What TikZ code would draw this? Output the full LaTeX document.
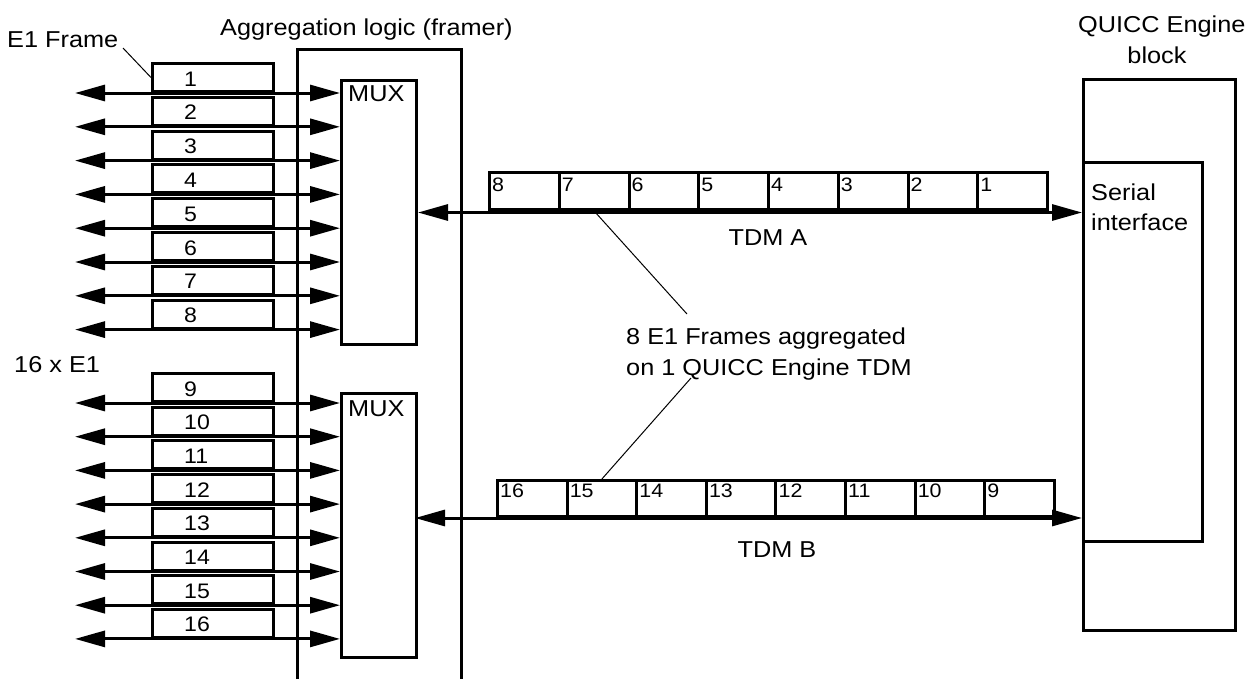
\documentclass[tikz,border=0pt]{standalone}
\usepackage{fontspec}
\setmainfont{Liberation Sans}
\newfontfamily\widefont[FakeStretch=1.1]{Liberation Sans}
\usetikzlibrary{arrows.meta}
\begin{document}
\begin{tikzpicture}[x=1pt,y=-1pt,
  box/.style={draw, line width=3pt, inner sep=0pt},
  e1box/.style={box, minimum width=121pt, minimum height=28pt, anchor=south west},
  slotA/.style={box, minimum width=69.75pt, minimum height=37pt, anchor=south west},
  slotB/.style={box, minimum width=69.6pt, minimum height=36pt, anchor=south west},
  txt/.style={inner sep=0pt, font=\widefont\fontsize{23}{30}\selectfont},
  numtxt/.style={inner sep=0pt, anchor=base west, font=\widefont\fontsize{21}{25}\selectfont},
  slottxt/.style={inner sep=0pt, anchor=base west, font=\widefont\fontsize{19.5}{24}\selectfont},
  tip/.tip={Triangle[length=30pt, width=16pt]},
  dbl/.style={line width=3pt, {tip}-{tip}},
  leader/.style={line width=1pt}
]
\useasboundingbox (0,0) rectangle (1256,681);

% aggregation block (open at the bottom)
\draw[line width=3pt] (297,679) -- (297,49) -- (461,49) -- (461,679);
\node[txt, anchor=base west] (aggtxt) at (220,35) {Aggregation logic (framer)};

% MUX boxes
\node[box, minimum width=75pt, minimum height=264pt, anchor=north west] (mux1) at (340,79) {};
\node[txt, anchor=base west] (muxt1) at (348,101) {MUX};
\node[box, minimum width=75pt, minimum height=264pt, anchor=north west] (mux2) at (340,392) {};
\node[txt, anchor=base west] (muxt2) at (348,416) {MUX};

% QUICC Engine block
\node[box, minimum width=152pt, minimum height=551pt, anchor=north west] (qe) at (1082,78) {};
\node[box, minimum width=119pt, minimum height=379pt, anchor=north west] (si) at (1082,161) {};
\node[txt, anchor=base west] (sit1) at (1091,200) {Serial};
\node[txt, anchor=base west] (sit2) at (1091,230) {interface};
\node[txt, anchor=base west] (qet1) at (1078,32) {QUICC Engine};
\node[txt, anchor=base] (qet2) at (1157,63) {block};

% E1 frames 1..8
\foreach \i in {1,...,8} {
  \pgfmathsetmacro\yy{93+(\i-1)*33.8}
  \coordinate (a\i) at (75,\yy);
  \node[e1box] (f\i) at (151,\yy) {};
  \node[numtxt] (n\i) at (184,\yy-7) {\i};
  \draw[dbl] (a\i) -- (a\i -| mux1.west);
}
% E1 frames 9..16
\foreach \i in {9,...,16} {
  \pgfmathsetmacro\yy{403+(\i-9)*33.7}
  \coordinate (a\i) at (75,\yy);
  \node[e1box] (f\i) at (151,\yy) {};
  \node[numtxt] (n\i) at (184,\yy-7) {\i};
  \draw[dbl] (a\i) -- (a\i -| mux2.west);
}
\node[txt, anchor=base west] (e1t) at (7,47) {E1 Frame};
\coordinate (e1c) at (123,48);
\draw[leader] (e1c) -- (f1.west);
\node[txt, anchor=base west] (x16) at (14,372) {16 x E1};

% TDM A
\foreach \i in {1,...,8} {
  \pgfmathtruncatemacro\lab{9-\i}
  \node[slotA] (sa\i) at ({488+(\i-1)*69.75},211) {};
  \node[slottxt] (sat\i) at ({492+(\i-1)*69.75},191) {\lab};
}
\draw[dbl] (mux1.east) -- (mux1.east -| si.west);
\node[txt, anchor=base] (tdma) at (768,245) {TDM A};

% TDM B
\foreach \i in {1,...,8} {
  \pgfmathtruncatemacro\lab{17-\i}
  \node[slotB] (sb\i) at ({496+(\i-1)*69.6},518) {};
  \node[slottxt] (sbt\i) at ({500+(\i-1)*69.6},497) {\lab};
}
\coordinate (tbl) at (415,518);
\draw[dbl] (tbl) -- (tbl -| si.west);
\node[txt, anchor=base] (tdmb) at (777,557) {TDM B};

% aggregation note
\node[txt, anchor=base west] (agg1) at (626,344) {8 E1 Frames aggregated};
\node[txt, anchor=base west] (agg2) at (626,375) {on 1 QUICC Engine TDM};
\coordinate (l1e) at (687,314);
\coordinate (l2s) at (691,378);
\draw[leader] (sa2.south) -- (l1e);
\draw[leader] (l2s) -- (sb2.north);
\end{tikzpicture}
\end{document}
